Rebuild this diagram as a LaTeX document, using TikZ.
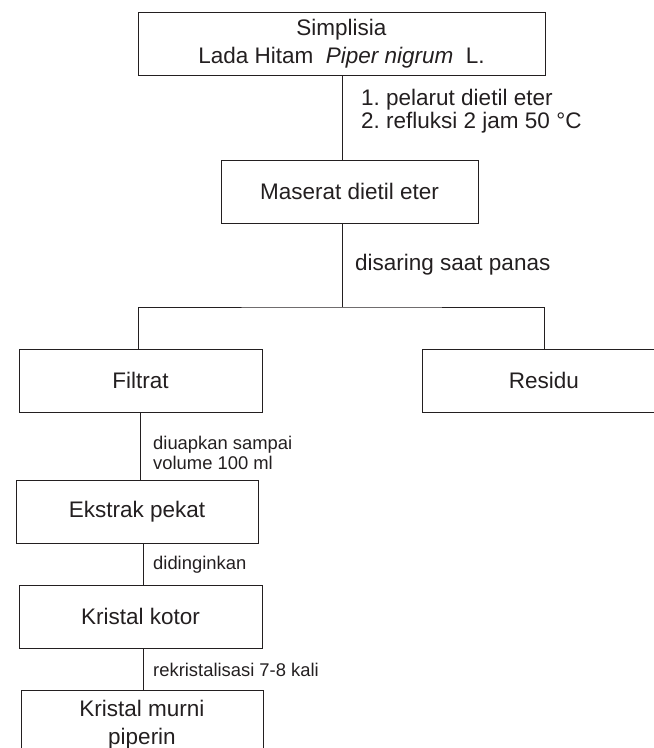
\documentclass[tikz,border=0pt]{standalone}
\usepackage{fontspec}
\setmainfont{Liberation Sans}
\usepackage{tikz}
\frenchspacing

\definecolor{inkdark}{HTML}{231F20}

\tikzset{
    flowbox/.style={draw=inkdark, line width=1pt, text=inkdark, align=center, inner sep=0pt, minimum height=63pt, font=\fontsize{22.5}{28}\selectfont},
    steplabel/.style={anchor=west, align=left, text=inkdark, inner sep=0pt, font=\fontsize{22.5}{23}\selectfont},
    smalllabel/.style={anchor=west, align=left, text=inkdark, inner sep=0pt, font=\fontsize{18.4}{20}\selectfont},
    link/.style={draw=inkdark, line width=1pt}
}

\begin{document}
\begin{tikzpicture}[x=1pt, y=-1pt]
    \useasboundingbox (0,0) rectangle (654,748);

    % Boxes
    \node[flowbox, minimum width=407pt] (simplisia) at (341.5,43.5) {Simplisia\\Lada Hitam\hspace{0.55em}\textit{Piper nigrum}\hspace{0.55em}L.};
    \node[flowbox, minimum width=257pt] (maserat) at (349.5,191.5) {Maserat dietil eter};
    \node[flowbox, minimum width=243pt] (filtrat) at (140.5,380.5) {Filtrat};
    \node[flowbox, minimum width=244pt] (residu) at (544,380.5) {Residu};
    \node[flowbox, minimum width=242pt] (ekstrak) at (137,511.5) {Ekstrak pekat};
    \node[flowbox, minimum width=243pt] (kotor) at (140.5,616.5) {Kristal kotor};
    \node[flowbox, minimum width=242pt, minimum height=69pt] (murni) at (142,724.5) {Kristal murni\\piperin};

    % Connectors
    \coordinate (split) at (342,307);
    \coordinate (stem) at (143,0);
    \draw[link] (simplisia.south -| split) -- (maserat.north -| split);
    \draw[link] (maserat.south -| split) -- (split);
    \draw[link] (filtrat.north -| 138,0) |- (split) -| (residu.north);
    \draw[link] (filtrat.south) -- (filtrat.south |- ekstrak.north);
    \draw[link] (ekstrak.south -| stem) -- (kotor.north -| stem);
    \draw[link] (kotor.south -| stem) -- (murni.north -| stem);

    % Step labels
    \node[steplabel] (pelarut) at (361,111) {1. pelarut dietil eter\\2. refluksi 2 jam 50 °C};
    \node[steplabel] (saring) at (355,265) {disaring saat panas};
    \node[smalllabel] (uapkan) at (153,453) {diuapkan sampai\\volume 100 ml};
    \node[smalllabel] (dingin) at (153,565) {didinginkan};
    \node[smalllabel] (rekristal) at (153,670) {rekristalisasi 7-8 kali};

\end{tikzpicture}
\end{document}
